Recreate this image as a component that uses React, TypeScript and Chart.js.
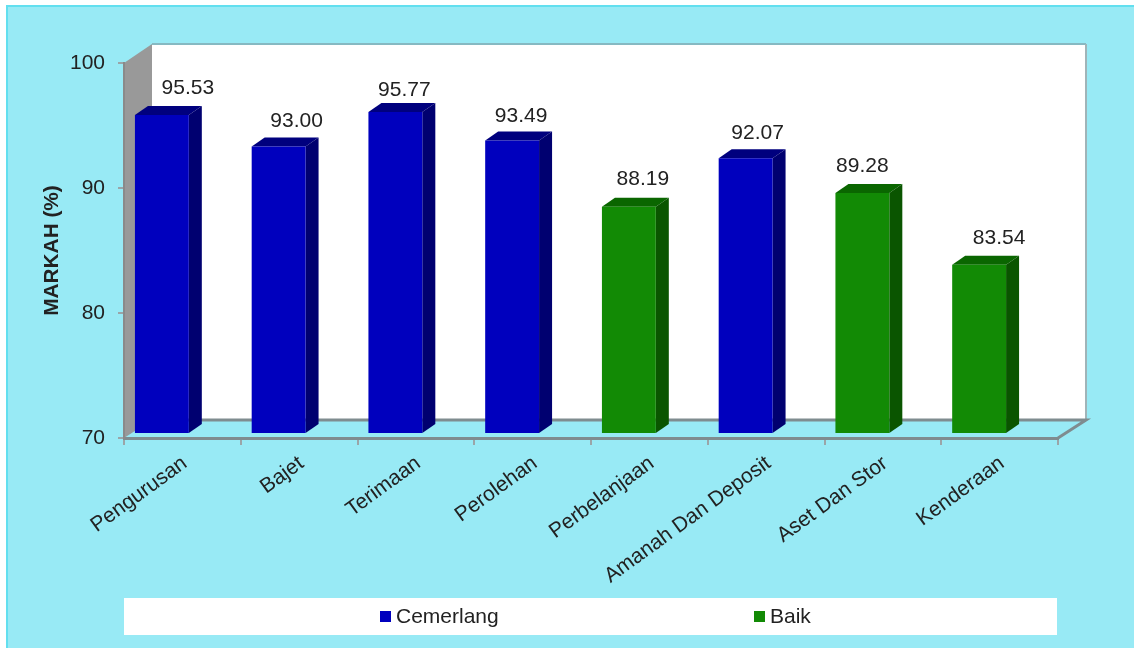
import React, { useEffect, useRef } from "react";
import { Chart, registerables } from "chart.js";

Chart.register(...registerables);

const categories = ["Pengurusan", "Bajet", "Terimaan", "Perolehan", "Perbelanjaan", "Amanah Dan Deposit", "Aset Dan Stor", "Kenderaan"];
const cemerlang = [95.53, 93.0, 95.77, 93.49, null, 92.07, null, null];
const baik = [null, null, null, null, 88.19, null, 89.28, 83.54];
const yTicks = [70, 80, 90, 100];

const FONT = "'Liberation Sans', Arial, sans-serif";
const BG = "#98EAF5";
const BG_EDGE = "#62DFEF";
const WALL_DX = 28;
const WALL_DY = 18;
const BAR_DX = 13;
const BAR_DY = 9;
const SHIFT_X = -20.5;
const SHIFT_Y = -4;
// hand-placed data labels in the original: nudge from the bar's front-top centre
const labelNudgeX = [26, 18, 9, 9, 14, 12, 0, 20];
const labelNudgeY = [-27, -25, -22, -24, -27, -25, -27, -27];
const faceColors = [
  { front: "#0000BE", side: "#000070", top: "#00007E" },
  { front: "#128A05", side: "#0A5500", top: "#0A6600" },
];

const scene = {
  id: "scene",
  beforeDraw(chart: any) {
    const { ctx, chartArea: a, width, height } = chart;
    ctx.save();
    ctx.fillStyle = "#fff";
    ctx.fillRect(0, 0, width, height);
    ctx.fillStyle = BG_EDGE;
    ctx.fillRect(6, 5, width - 6, height - 5);
    ctx.fillStyle = BG;
    ctx.fillRect(8, 7, width - 8, height - 7);
    // back wall
    ctx.fillStyle = "#fff";
    ctx.fillRect(a.left + WALL_DX, a.top - WALL_DY - 1, a.width, a.height);
    ctx.strokeStyle = "#86B9C2";
    ctx.lineWidth = 2;
    ctx.beginPath();
    ctx.moveTo(a.left + WALL_DX, a.top - WALL_DY - 1);
    ctx.lineTo(a.right + WALL_DX, a.top - WALL_DY - 1);
    ctx.stroke();
    ctx.strokeStyle = "#A0B4B8";
    ctx.beginPath();
    ctx.moveTo(a.right + WALL_DX, a.top - WALL_DY - 1);
    ctx.lineTo(a.right + WALL_DX, a.bottom - WALL_DY);
    ctx.stroke();
    // left wall
    ctx.fillStyle = "#999999";
    ctx.beginPath();
    ctx.moveTo(a.left, a.top);
    ctx.lineTo(a.left + WALL_DX, a.top - WALL_DY - 1);
    ctx.lineTo(a.left + WALL_DX, a.bottom - WALL_DY);
    ctx.lineTo(a.left, a.bottom);
    ctx.closePath();
    ctx.fill();
    // floor edges
    ctx.strokeStyle = "#7F8C8F";
    ctx.lineWidth = 3;
    ctx.beginPath();
    ctx.moveTo(a.left + WALL_DX, a.bottom - WALL_DY);
    ctx.lineTo(a.right + WALL_DX, a.bottom - WALL_DY);
    ctx.lineTo(a.right, a.bottom);
    ctx.stroke();
    // legend band
    ctx.fillStyle = "#fff";
    ctx.fillRect(a.left, 598, a.width - 1, 37);
    ctx.restore();
  },
  beforeDatasetsDraw(chart: any) {
    const { ctx } = chart;
    ctx.save();
    ctx.translate(SHIFT_X, SHIFT_Y);
    chart.data.datasets.forEach((ds: any, d: number) => {
      const c = faceColors[d];
      chart.getDatasetMeta(d).data.forEach((b: any, i: number) => {
        if (ds.data[i] == null) return;
        const l = b.x - b.width / 2;
        const r = b.x + b.width / 2;
        ctx.fillStyle = c.top;
        ctx.beginPath();
        ctx.moveTo(l, b.y);
        ctx.lineTo(l + BAR_DX, b.y - BAR_DY);
        ctx.lineTo(r + BAR_DX, b.y - BAR_DY);
        ctx.lineTo(r, b.y);
        ctx.closePath();
        ctx.fill();
        ctx.fillStyle = c.side;
        ctx.beginPath();
        ctx.moveTo(r, b.y);
        ctx.lineTo(r + BAR_DX, b.y - BAR_DY);
        ctx.lineTo(r + BAR_DX, b.base - BAR_DY);
        ctx.lineTo(r, b.base);
        ctx.closePath();
        ctx.fill();
      });
    });
  },
  afterDatasetsDraw(chart: any) {
    const { ctx } = chart;
    ctx.restore();
    // data labels
    ctx.save();
    ctx.font = `21px ${FONT}`;
    ctx.fillStyle = "#222";
    ctx.textAlign = "center";
    ctx.textBaseline = "middle";
    chart.data.datasets.forEach((ds: any, d: number) => {
      chart.getDatasetMeta(d).data.forEach((b: any, i: number) => {
        const v = ds.data[i];
        if (v == null) return;
        ctx.fillText(v.toFixed(2), b.x + SHIFT_X + labelNudgeX[i], b.y + SHIFT_Y + labelNudgeY[i]);
      });
    });
    // legend
    const legendX = [380, 754];
    ctx.textAlign = "left";
    chart.data.datasets.forEach((ds: any, d: number) => {
      ctx.fillStyle = faceColors[d].front;
      ctx.fillRect(legendX[d], 611, 11, 11);
      ctx.fillStyle = "#222";
      ctx.fillText(ds.label, legendX[d] + 16, 617);
    });
    ctx.restore();
  },
};

export default function App() {
  const ref = useRef<HTMLCanvasElement>(null);
  useEffect(() => {
    const chart = new Chart(ref.current as HTMLCanvasElement, {
      type: "bar",
      data: {
        labels: categories,
        datasets: [
          { label: "Cemerlang", data: cemerlang, backgroundColor: faceColors[0].front, clip: false, grouped: false, base: 70 },
          { label: "Baik", data: baik, backgroundColor: faceColors[1].front, clip: false, grouped: false, base: 70 },
        ],
      } as any,
      plugins: [scene],
      options: {
        responsive: false,
        animation: false,
        devicePixelRatio: 1,
        layout: { padding: { left: 36, top: 63, right: 76, bottom: 0 } },
        datasets: { bar: { categoryPercentage: 1, barPercentage: 54 / 117 } },
        plugins: { legend: { display: false }, tooltip: { enabled: false }, title: { display: false } },
        scales: {
          x: {
            afterFit: (s: any) => { s.height = 210; },
            grid: { offset: true, drawOnChartArea: false, color: "#9AA5A8", lineWidth: 2, tickLength: 7 },
            border: { color: "#7F8C8F", width: 3 },
            ticks: {
              color: "#222",
              font: { family: FONT, size: 21 },
              minRotation: 36,
              maxRotation: 36,
              autoSkip: false,
              padding: 6,
              labelOffset: 2.5,
            },
          },
          y: {
            min: 70,
            max: 100,
            afterFit: (s: any) => { s.width = 88; },
            afterBuildTicks: (s: any) => { s.ticks = yTicks.map((value) => ({ value })); },
            grid: { drawOnChartArea: false, color: "#9AA5A8", lineWidth: 2, tickLength: 6 },
            border: { color: "#8A8A8A", width: 2 },
            title: {
              display: true,
              text: "MARKAH (%)",
              color: "#222",
              font: { family: FONT, size: 20.8, weight: "bold" },
              padding: { top: 4, bottom: 0 },
            },
            ticks: { color: "#222", font: { family: FONT, size: 21 }, padding: 13 },
          },
        },
      },
    } as any);
    return () => chart.destroy();
  }, []);
  return (
    <div style={{ position: "fixed", left: 0, top: 0, width: 1134, height: 648 }}>
      <canvas ref={ref} width={1134} height={648} style={{ display: "block" }} />
    </div>
  );
}
